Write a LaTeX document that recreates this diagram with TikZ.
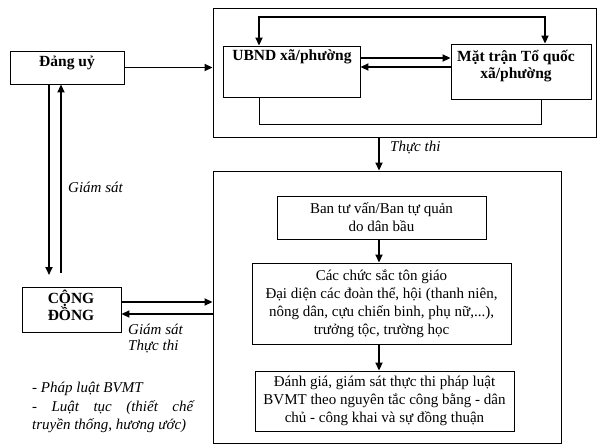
\documentclass[tikz,border=0pt]{standalone}
\usepackage{fontspec}
\setmainfont{Liberation Serif}
\usetikzlibrary{arrows.meta}
\begin{document}
\begin{tikzpicture}[x=1pt,y=-1pt,
  box/.style={draw, line width=0.9pt, inner sep=2pt, align=center},
  arr/.style={line width=1.8pt, -{Triangle[length=8pt,width=7pt]}},
  biarr/.style={line width=1.8pt, {Triangle[length=8pt,width=7pt]}-{Triangle[length=8pt,width=7pt]}},
  thinline/.style={line width=0.9pt},
  lbl/.style={font=\fontsize{15}{17.5}\selectfont\itshape, inner sep=0, anchor=west},
  txt/.style={font=\fontsize{15}{17.8}\selectfont, align=center, inner sep=0},
  btxt/.style={font=\fontsize{15.5}{17.5}\selectfont\bfseries, align=center, inner sep=0}]
\useasboundingbox (0,0) rectangle (605,447);

% boxes
\node[box, minimum width=113.5pt, minimum height=33pt] (dang) at (67.25,67.5) {};
\node[btxt] (dangT) at (67,63) {Đảng uỷ};

\node[box, minimum width=383pt, minimum height=129pt] (top) at (404.5,72.5) {};
\node[box, minimum width=137pt, minimum height=51pt] (ubnd) at (291.5,71.5) {};
\node[btxt] (ubndT) at (292,57) {UBND xã/phường};
\node[box, minimum width=140pt, minimum height=55pt] (mttq) at (521,71.5) {};
\node[btxt] (mttqT) at (516,66) {Mặt trận Tổ quốc\\xã/phường};

\node[box, minimum width=348pt, minimum height=272pt] (bot) at (387,307) {};
\node[box, txt, minimum width=209pt, minimum height=43pt] (ban) at (381.5,217.5) {Ban tư vấn/Ban tự quản\\do dân bầu};
\node[box, txt, minimum width=259pt, minimum height=81pt] (chuc) at (381.5,303.5) {Các chức sắc tôn giáo\\Đại diện các đoàn thể, hội (thanh niên,\\nông dân, cựu chiến binh, phụ nữ,...),\\trưởng tộc, trường học};
\node[box, txt, minimum width=259pt, minimum height=60pt] (dg) at (384.5,401) {Đánh giá, giám sát thực thi pháp luật\\BVMT theo nguyên tắc công bằng - dân\\chủ - công khai và sự đồng thuận};

\node[box, minimum width=99pt, minimum height=45pt] (cd) at (71.5,309.5) {};
\node[btxt] (cdT) at (71,305.5) {CỘNG\\ĐỒNG};

% connectors
\draw[arr] (dang.east) -- (dang.east -| top.west);

\coordinate (tl) at (259,17); \coordinate (tr) at (545,17);
\draw[biarr] (ubnd.north -| tl) -- (tl) -- (tr) -- (mttq.north -| tr);

\coordinate (m1) at (0,58); \coordinate (m2) at (0,67);
\draw[arr] (ubnd.east |- m1) -- (mttq.west |- m1);
\draw[arr] (mttq.west |- m2) -- (ubnd.east |- m2);

\coordinate (bl) at (259,124); \coordinate (br) at (541,124);
\draw[thinline] (ubnd.south -| bl) -- (bl) -- (br) -- (mttq.south -| br);

\coordinate (ax) at (379,0);
\draw[arr] (top.south -| ax) -- (bot.north -| ax);
\node[lbl] (thucthi1) at (390,148) {Thực thi};
\draw[arr] (ban.south -| ax) -- (chuc.north -| ax);
\draw[arr] (chuc.south -| ax) -- (dg.north -| ax);

\coordinate (vl) at (49,275); \coordinate (vr) at (61,273);
\draw[arr] (dang.south -| vl) -- (vl);
\draw[arr] (vr) -- (dang.south -| vr);
\node[lbl] (gs1) at (68,187) {Giám sát};

\coordinate (h1) at (0,302); \coordinate (h2) at (0,314);
\draw[arr] (cd.east |- h1) -- (bot.west |- h1);
\draw[arr] (bot.west |- h2) -- (cd.east |- h2);
\node[lbl] (gs2) at (128,329) {Giám sát};
\node[lbl] (tt2) at (128,347) {Thực thi};

\node[lbl, font=\fontsize{15}{18.5}\selectfont\itshape, align=left] (notes) at (32,407.5) {- Pháp luật BVMT\\\makebox[161pt][s]{- Luật tục (thiết chế}\\truyền thống, hương ước)};
\end{tikzpicture}
\end{document}
